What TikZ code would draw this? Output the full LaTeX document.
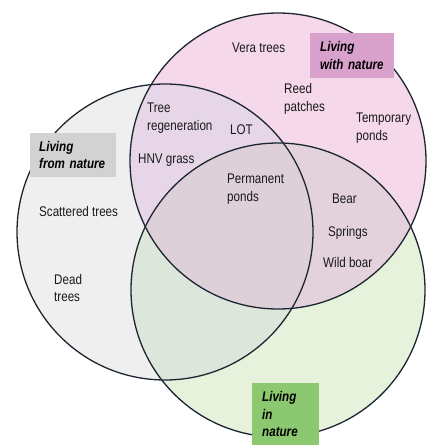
\documentclass[tikz,border=0pt]{standalone}
\usepackage{fontspec}
\setmainfont{Liberation Sans}[FakeStretch=0.83]
\usepackage{tikz}

\definecolor{grayset}{HTML}{EFEFEF}
\definecolor{pinkset}{HTML}{F5D9EA}
\definecolor{greenset}{HTML}{E6F2DC}
\definecolor{pinkgray}{HTML}{E6D6E8}
\definecolor{pinkgreen}{HTML}{E3D2DC}
\definecolor{graygreen}{HTML}{DDE6DA}
\definecolor{allsets}{HTML}{DDD0D8}
\definecolor{rimcol}{HTML}{1C2630}
\definecolor{pinkbox}{HTML}{D9A2CC}
\definecolor{graybox}{HTML}{D2D2D2}
\definecolor{greenbox}{HTML}{8CC870}

\tikzset{
  item/.style={anchor=west,align=left,inner sep=0pt,text=black!90,
    font=\fontsize{14}{17.5}\selectfont},
  labelbox/.style={anchor=north west,align=left,inner xsep=10pt,inner ysep=0pt,
    font=\fontsize{14}{17.5}\selectfont\bfseries\itshape}
}

\begin{document}
\begin{tikzpicture}[x=1pt,y=-1pt]
  \useasboundingbox (0,0) rectangle (432,447);
  % circles: from (gray), with (pink), in (green)
  \coordinate (from) at (165,232);
  \coordinate (with) at (278,161);
  \coordinate (in)   at (278,290);
  \fill[grayset]  (from) circle (148);
  \fill[pinkset]  (with) circle (148);
  \fill[greenset] (in)   circle (147);
  \begin{scope}
    \clip (with) circle (148);
    \fill[pinkgray]  (from) circle (148);
    \fill[pinkgreen] (in) circle (147);
  \end{scope}
  \begin{scope}
    \clip (from) circle (148);
    \fill[graygreen] (in) circle (147);
  \end{scope}
  \begin{scope}
    \clip (from) circle (148);
    \clip (with) circle (148);
    \fill[allsets] (in) circle (147);
  \end{scope}
  \draw[rimcol,line width=1.3pt] (from) circle (148);
  \draw[rimcol,line width=1.3pt] (with) circle (148);
  \draw[rimcol,line width=1.3pt] (in)   circle (147);

  % set labels
  \node[labelbox,fill=pinkbox,text width=64pt,minimum height=45pt] (withlab) at (310,33) {Living\\with nature};
  \node[labelbox,fill=graybox,inner xsep=9pt,text width=68pt,minimum height=44pt] (fromlab) at (30,133) {Living\\from nature};
  \node[labelbox,fill=greenbox,text width=47pt,minimum height=62pt] (inlab) at (252,383) {Living\\in\\nature};

  % items
  \node[item] (vera)  at (232,48)  {Vera trees};
  \node[item] (reed)  at (284,99)  {Reed\\patches};
  \node[item] (temp)  at (356,128) {Temporary\\ponds};
  \node[item] (regen) at (147,118) {Tree\\regeneration};
  \node[item] (lot)   at (230,130) {LOT};
  \node[item] (hnv)   at (138,160) {HNV grass};
  \node[item] (perm)  at (227,189) {Permanent\\ponds};
  \node[item] (bear)  at (332,199) {Bear};
  \node[item] (spring) at (328,233) {Springs};
  \node[item] (boar)  at (323,262) {Wild boar};
  \node[item] (scat)  at (39,211)  {Scattered trees};
  \node[item] (dead)  at (54,288)  {Dead\\trees};
\end{tikzpicture}
\end{document}
